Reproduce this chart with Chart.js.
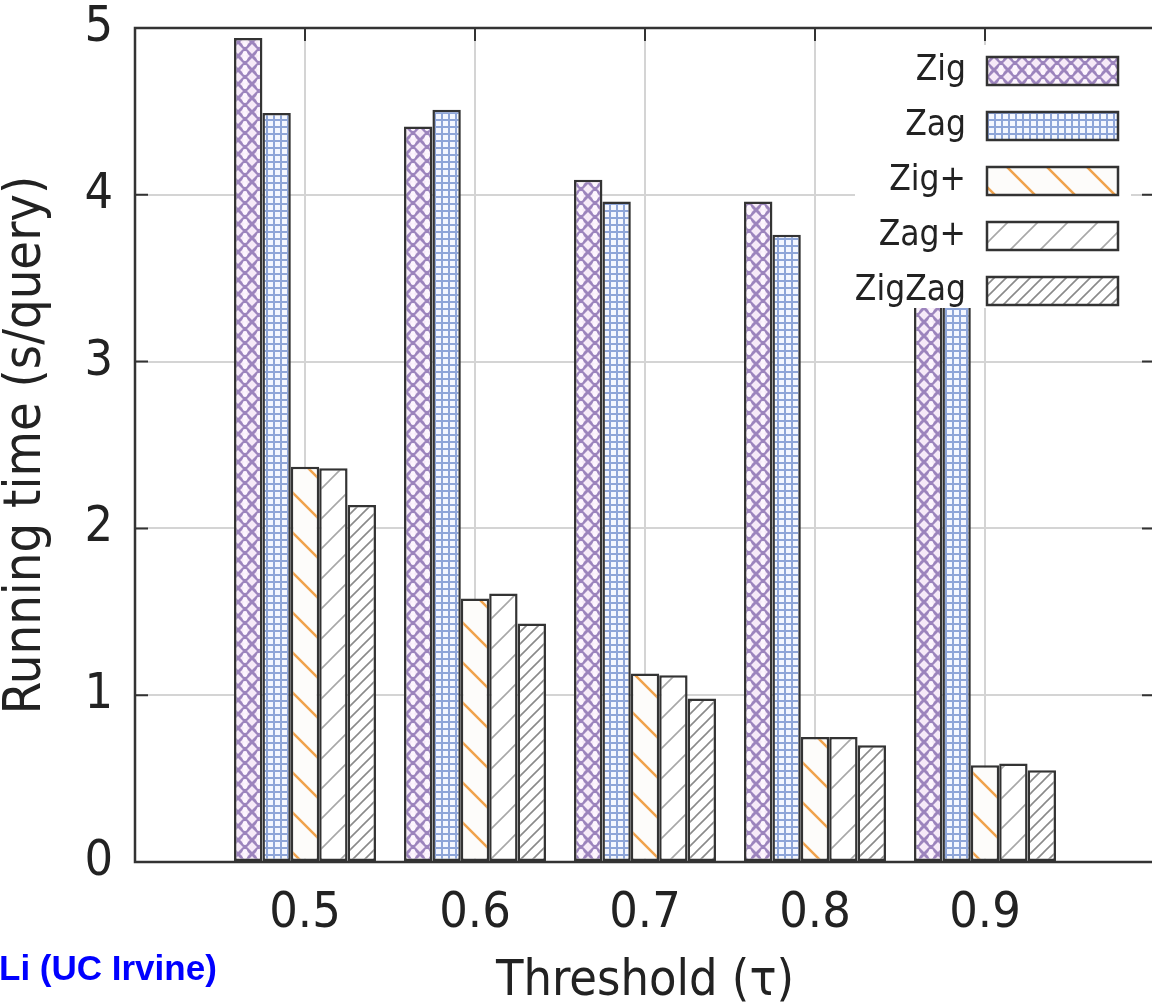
<!DOCTYPE html>
<html lang="en">
<head>
    <meta charset="utf-8">
    <title>Running time vs threshold</title>
    <script src="https://cdn.jsdelivr.net/npm/chart.js@4.4.1/dist/chart.umd.min.js"></script>
    <style>
        html, body { margin: 0; padding: 0; background: #fff; overflow: hidden; }
        #wrap { width: 1152px; height: 1007px; overflow: hidden; position: relative; }
        #box { width: 1160px; height: 1007px; }
    </style>
</head>
<body>
<div id="wrap"><div id="box"><canvas id="myChart"></canvas></div></div>
<script>
// data
var categories = ['0.5', '0.6', '0.7', '0.8', '0.9'];
var zig     = [4.94, 4.41, 4.09, 3.96, 3.78];
var zag     = [4.49, 4.51, 3.96, 3.76, 3.58];
var zigPlus = [2.37, 1.58, 1.13, 0.75, 0.58];
var zagPlus = [2.36, 1.61, 1.12, 0.75, 0.59];
var zigZag  = [2.14, 1.43, 0.98, 0.70, 0.55];
var yTicks  = [0, 1, 2, 3, 4, 5];

var FONT = "'DejaVu Sans Condensed', 'DejaVu Sans', sans-serif";
var INK = '#222';

// hatch patterns
function makePattern(w, h, draw) {
    var c = document.createElement('canvas');
    c.width = w; c.height = h;
    var g = c.getContext('2d');
    draw(g, w, h);
    return document.createElement('canvas').getContext('2d').createPattern(c, 'repeat');
}
var patZig = makePattern(14, 14, function (g, w, h) {
    g.fillStyle = '#f6eaf8'; g.fillRect(0, 0, w, h);
    g.strokeStyle = '#9c84bd'; g.lineWidth = 3;
    g.beginPath();
    g.moveTo(0, 0); g.lineTo(w, h);
    g.moveTo(w, 0); g.lineTo(0, h);
    g.stroke();
    g.fillStyle = '#fdf6fe';
    g.beginPath(); g.arc(7, 2.5, 2.4, 0, Math.PI * 2); g.fill();
    g.beginPath(); g.arc(7, 11.5, 2.4, 0, Math.PI * 2); g.fill();
});
var patZag = makePattern(7, 7, function (g, w, h) {
    g.fillStyle = '#f4f7ff'; g.fillRect(0, 0, w, h);
    g.fillStyle = '#8ea5d8';
    g.fillRect(0, 0, w, 2);
    g.fillRect(0, 0, 2, h);
});
function diag(color, size, lw, back, bg) {
    return makePattern(size, size, function (g, w, h) {
        g.fillStyle = bg; g.fillRect(0, 0, w, h);
        g.strokeStyle = color; g.lineWidth = lw;
        g.beginPath();
        if (back) {
            g.moveTo(-2, -2); g.lineTo(w + 2, h + 2);
            g.moveTo(w - 2, -2); g.lineTo(w + 2, 2);
            g.moveTo(-2, h - 2); g.lineTo(2, h + 2);
        } else {
            g.moveTo(-2, h + 2); g.lineTo(w + 2, -2);
            g.moveTo(-2, 2); g.lineTo(2, -2);
            g.moveTo(w - 2, h + 2); g.lineTo(w + 2, h - 2);
        }
        g.stroke();
    });
}
var patZigPlus = diag('#f0a24c', 40, 2.5, true, '#fdfcfa');
var patZagPlus = diag('#a8a8a8', 30, 1.6, false, '#ffffff');
var patZigZag  = diag('#8a8a8a', 12, 1.6, false, '#ffffff');

function pad(arr) { return [null].concat(arr, [null]); }

var series = [
    { label: 'Zig', data: zig, bg: patZig },
    { label: 'Zag', data: zag, bg: patZag },
    { label: 'Zig+', data: zigPlus, bg: patZigPlus },
    { label: 'Zag+', data: zagPlus, bg: patZagPlus },
    { label: 'ZigZag', data: zigZag, bg: patZigZag }
];

// frame, inside ticks, legend, footer text
var extras = {
    id: 'extras',
    beforeDatasetsDraw: function (chart) {
        var ctx = chart.ctx, a = chart.chartArea;
        var x = chart.scales.x, y = chart.scales.y;
        ctx.save();
        ctx.strokeStyle = '#333'; ctx.lineWidth = 2;
        ctx.beginPath();
        yTicks.forEach(function (v) {
            var py = y.getPixelForValue(v);
            ctx.moveTo(a.left, py); ctx.lineTo(a.left + 13, py);
            ctx.moveTo(a.right, py); ctx.lineTo(a.right - 13, py);
        });
        categories.forEach(function (c, i) {
            var px = x.getPixelForValue(i + 1);
            ctx.moveTo(px, a.top); ctx.lineTo(px, a.top + 13);
        });
        ctx.stroke();
        ctx.restore();
    },
    afterDatasetsDraw: function (chart) {
        var ctx = chart.ctx, a = chart.chartArea;
        ctx.save();
        ctx.strokeStyle = '#333'; ctx.lineWidth = 2.5;
        ctx.strokeRect(a.left, a.top, a.right - a.left, a.bottom - a.top);

        // legend box
        ctx.fillStyle = '#fff';
        ctx.fillRect(855, 45, 276, 263);
        ctx.font = '35px ' + FONT;
        ctx.textAlign = 'right';
        ctx.textBaseline = 'middle';
        ctx.lineWidth = 2.5;
        chart.data.datasets.forEach(function (ds, i) {
            var cy = 71 + i * 55;
            ctx.fillStyle = INK;
            ctx.fillText(ds.label, 966, cy);
            ctx.fillStyle = ds.backgroundColor;
            ctx.fillRect(987, cy - 14, 131, 28);
            ctx.strokeStyle = '#333';
            ctx.strokeRect(987, cy - 14, 131, 28);
        });

        ctx.font = 'bold 35px "Liberation Sans", Arial, sans-serif';
        ctx.fillStyle = '#0000ff';
        ctx.textAlign = 'left';
        ctx.textBaseline = 'alphabetic';
        ctx.fillText('Li (UC Irvine)', -1, 980);
        ctx.restore();
    }
};

var ctx = document.getElementById('myChart').getContext('2d');
var myChart = new Chart(ctx, {
    type: 'bar',
    data: {
        labels: [''].concat(categories, ['']),
        datasets: series.map(function (s) {
            return {
                label: s.label,
                data: pad(s.data),
                backgroundColor: s.bg,
                borderColor: '#333',
                borderWidth: 2.5,
                borderSkipped: false
            };
        })
    },
    options: {
        responsive: true,
        maintainAspectRatio: false,
        animation: false,
        layout: { padding: { top: 28, right: 5, left: 0, bottom: 0 } },
        categoryPercentage: 0.835,
        barPercentage: 1.0,
        plugins: {
            legend: { display: false },
            tooltip: { enabled: false }
        },
        scales: {
            x: {
                offset: false,
                grid: { offset: false, color: '#d4d4d4', lineWidth: 2, drawTicks: false },
                border: { display: false },
                ticks: { color: INK, font: { family: FONT, size: 50 }, padding: 22, maxRotation: 0, autoSkip: false },
                title: { display: true, text: 'Threshold (τ)', color: INK, font: { family: FONT, size: 50, lineHeight: 1 }, padding: { top: 0, bottom: 0 } },
                afterFit: function (s) {
                    s.height = 145;
                    s.paddingLeft = 0; s.paddingRight = 0;
                }
            },
            y: {
                min: 0, max: 5,
                grid: { color: '#d4d4d4', lineWidth: 2, drawTicks: false },
                border: { display: false },
                ticks: { stepSize: 1, color: INK, font: { family: FONT, size: 50 }, padding: 22 },
                title: { display: true, text: 'Running time (s/query)', color: INK, font: { family: FONT, size: 52, lineHeight: 1 }, padding: { top: 0, bottom: 0 } },
                afterFit: function (s) {
                    s.width = 135;
                    s.paddingTop = 0; s.paddingBottom = 0;
                }
            }
        }
    },
    plugins: [extras]
});
</script>
</body>
</html>
